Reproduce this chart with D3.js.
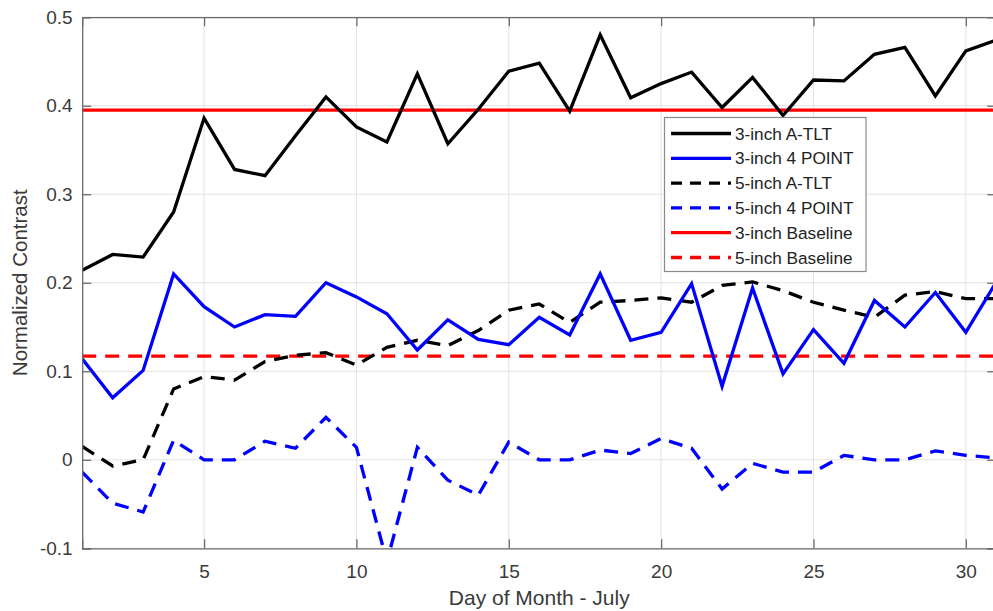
<!DOCTYPE html>
<html>
<head>
<meta charset="utf-8">
<script src="https://cdn.jsdelivr.net/npm/d3@7"></script>
<style>
  html, body { margin: 0; padding: 0; background: #fff; }
  svg { display: block; font-family: "Liberation Sans", Arial, sans-serif; }
</style>
</head>
<body>
<svg id="chart" width="993" height="611"></svg>
<script>
const days = d3.range(1, 32);
const xTicks = [5, 10, 15, 20, 25, 30];
const yTicks = [-0.1, 0, 0.1, 0.2, 0.3, 0.4, 0.5];
const yTickLabels = ["-0.1", "0", "0.1", "0.2", "0.3", "0.4", "0.5"];

const a3TLT = [0.214, 0.232, 0.229, 0.280, 0.386, 0.328, 0.321, 0.366, 0.410, 0.376,
               0.359, 0.436, 0.357, 0.396, 0.439, 0.448, 0.394, 0.480, 0.409, 0.425,
               0.438, 0.398, 0.432, 0.389, 0.429, 0.428, 0.458, 0.466, 0.411, 0.462, 0.474];
const p3Point = [0.114, 0.070, 0.101, 0.210, 0.173, 0.150, 0.164, 0.162, 0.200, 0.184,
                 0.165, 0.124, 0.158, 0.136, 0.130, 0.161, 0.141, 0.210, 0.135, 0.144,
                 0.199, 0.083, 0.194, 0.097, 0.147, 0.109, 0.180, 0.150, 0.189, 0.144, 0.201];
const a5TLT = [0.015, -0.007, 0.000, 0.080, 0.094, 0.090, 0.111, 0.118, 0.121, 0.107,
               0.127, 0.135, 0.129, 0.146, 0.169, 0.176, 0.155, 0.178, 0.180, 0.183,
               0.178, 0.197, 0.201, 0.191, 0.178, 0.169, 0.161, 0.186, 0.190, 0.182, 0.182];
const p5Point = [-0.014, -0.049, -0.059, 0.022, 0.000, 0.000, 0.021, 0.013, 0.048, 0.014,
                 -0.115, 0.014, -0.023, -0.040, 0.020, 0.000, 0.000, 0.011, 0.007, 0.024,
                 0.013, -0.033, -0.004, -0.014, -0.014, 0.005, 0.000, 0.000, 0.010, 0.005, 0.002];
const baseline3 = 0.395;
const baseline5 = 0.117;

const legendLabels = ["3-inch A-TLT", "3-inch 4 POINT", "5-inch A-TLT", "5-inch 4 POINT", "3-inch Baseline", "5-inch Baseline"];

const svg = d3.select("#chart");
const pLeft = 82.2, pRight = 996.3, pTop = 17.2, pBottom = 548.3;
const x = d3.scaleLinear().domain([1, 31]).range([pLeft, pRight]);
const y = d3.scaleLinear().domain([-0.1, 0.5]).range([pBottom, pTop]);

const textColor = "#3a3a3a";
const axisColor = "#6b6b6b";

// grid
const grid = svg.append("g");
grid.selectAll("line.gx").data(xTicks).join("line")
  .attr("x1", d => x(d)).attr("x2", d => x(d)).attr("y1", pTop).attr("y2", pBottom)
  .attr("stroke", "#e3e3e3").attr("stroke-width", 1);
grid.selectAll("line.gy").data(yTicks).join("line")
  .attr("x1", pLeft).attr("x2", pRight).attr("y1", d => y(d)).attr("y2", d => y(d))
  .attr("stroke", "#e3e3e3").attr("stroke-width", 1);

// clip
svg.append("clipPath").attr("id", "clip").append("rect")
  .attr("x", pLeft).attr("y", pTop).attr("width", pRight - pLeft).attr("height", pBottom - pTop);

const plot = svg.append("g").attr("clip-path", "url(#clip)");
const line = d3.line().x((d, i) => x(days[i])).y(d => y(d));

const series = [
  { data: days.map(() => baseline3), color: "#ff0000", dash: null },
  { data: days.map(() => baseline5), color: "#ff0000", dash: "14,9" },
  { data: p5Point, color: "#0000ff", dash: "14,9" },
  { data: a5TLT, color: "#000000", dash: "14,9" },
  { data: p3Point, color: "#0000ff", dash: null },
  { data: a3TLT, color: "#000000", dash: null }
];
series.forEach(s => {
  plot.append("path").datum(s.data)
    .attr("d", line)
    .attr("fill", "none")
    .attr("stroke", s.color)
    .attr("stroke-width", 3.3)
    .attr("stroke-linejoin", "miter")
    .attr("stroke-dasharray", s.dash);
});

// axes (MATLAB-like box with inward ticks)
const axB = d3.axisBottom(x).tickValues(xTicks).tickSize(-9).tickPadding(16.5).tickFormat(d3.format("d"));
const axT = d3.axisTop(x).tickValues(xTicks).tickSize(-9).tickFormat("");
const axL = d3.axisLeft(y).tickValues(yTicks).tickSize(-9).tickPadding(9.5).tickFormat((d, i) => yTickLabels[i]);
const axR = d3.axisRight(y).tickValues(yTicks).tickSize(-9).tickFormat("");

function styleAxis(g) {
  g.select(".domain").attr("stroke", axisColor).attr("stroke-width", 1.3);
  g.selectAll(".tick line").attr("stroke", axisColor).attr("stroke-width", 1.3);
  g.selectAll(".tick text").attr("fill", textColor).style("font-size", "19px")
    .style("font-family", "'Liberation Sans', Arial, sans-serif");
}
svg.append("g").attr("transform", `translate(0,${pBottom})`).call(axB).call(styleAxis);
svg.append("g").attr("transform", `translate(0,${pTop})`).call(axT).call(styleAxis);
svg.append("g").attr("transform", `translate(${pLeft},0)`).call(axL).call(styleAxis);
svg.append("g").attr("transform", `translate(${pRight},0)`).call(axR).call(styleAxis);

// axis titles
svg.append("text").attr("x", (pLeft + pRight) / 2).attr("y", 605)
  .attr("text-anchor", "middle").attr("fill", textColor).style("font-size", "21px")
  .text("Day of Month - July");
svg.append("text").attr("transform", `translate(27,${(pTop + pBottom) / 2}) rotate(-90)`)
  .attr("text-anchor", "middle").attr("fill", textColor).style("font-size", "20.5px")
  .text("Normalized Contrast");

// legend
const legX = 664.5, legY = 117.5, legW = 201.5, legH = 154;
const leg = svg.append("g");
leg.append("rect").attr("x", legX).attr("y", legY).attr("width", legW).attr("height", legH)
  .attr("fill", "#fff").attr("stroke", "#8a8a8a").attr("stroke-width", 1.2);
const legendStyles = [
  { color: "#000000", dash: null },
  { color: "#0000ff", dash: null },
  { color: "#000000", dash: "11,8" },
  { color: "#0000ff", dash: "11,8" },
  { color: "#ff0000", dash: null },
  { color: "#ff0000", dash: "11,8" }
];
legendLabels.forEach((lab, i) => {
  const yy = legY + 16 + i * 24.8;
  leg.append("line").attr("x1", 671).attr("x2", 731).attr("y1", yy).attr("y2", yy)
    .attr("stroke", legendStyles[i].color).attr("stroke-width", 3.3)
    .attr("stroke-dasharray", legendStyles[i].dash);
  leg.append("text").attr("x", 735).attr("y", yy + 6).attr("fill", "#222")
    .style("font-size", "17.2px").text(lab);
});
</script>
</body>
</html>
